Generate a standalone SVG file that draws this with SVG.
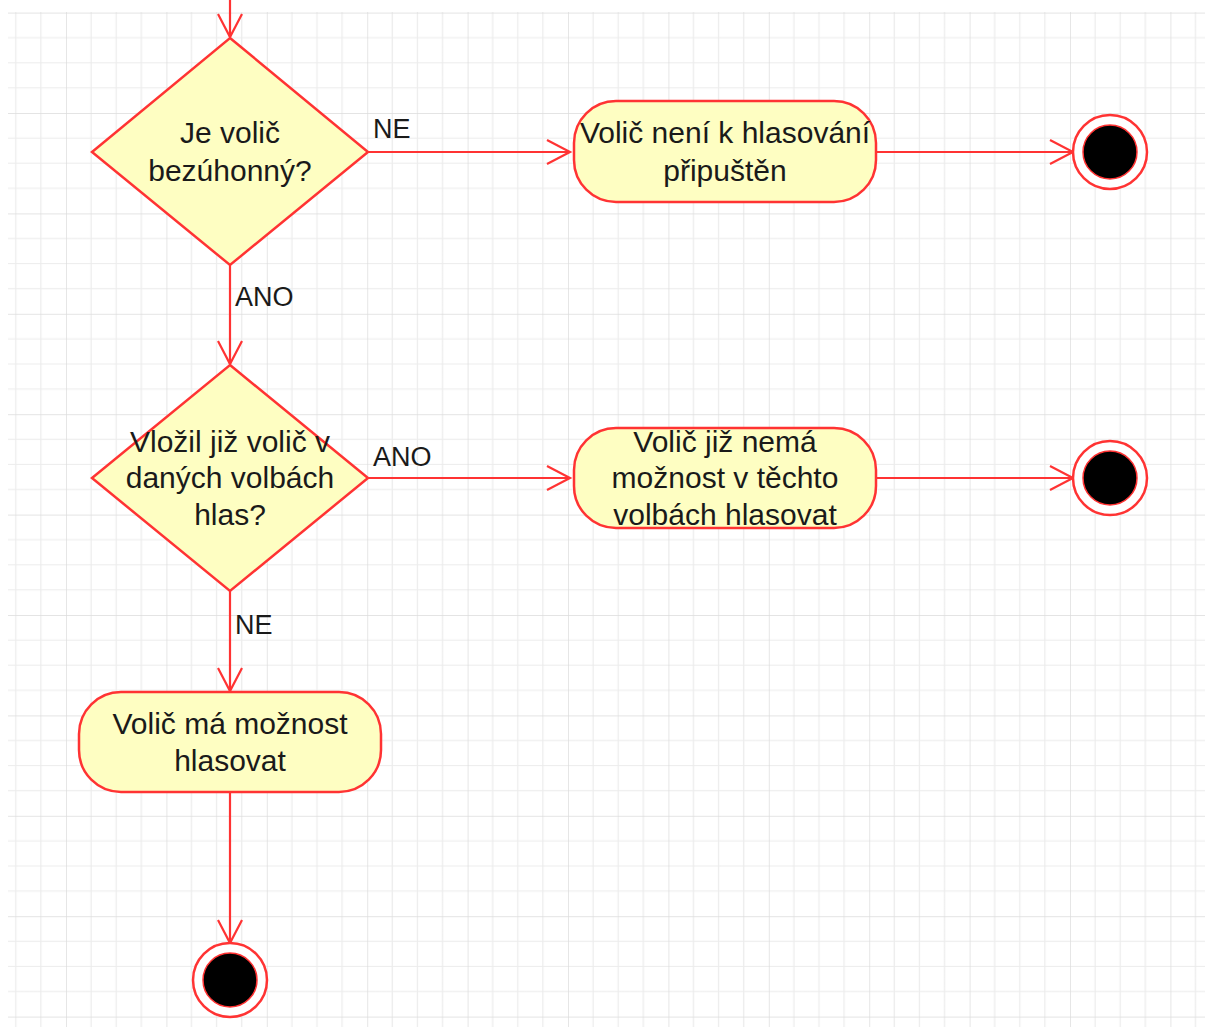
<svg xmlns="http://www.w3.org/2000/svg" width="1205" height="1027" viewBox="0 0 1205 1027">
<defs>
<pattern id="grid" patternUnits="userSpaceOnUse" x="-34.4" y="12.6" width="100.4" height="100.4">
<path d="M25.1 0V100.4M50.2 0V100.4M75.3 0V100.4M0 25.1H100.4M0 50.2H100.4M0 75.3H100.4" stroke="#ececec" stroke-width="1.2" fill="none"/>
<path d="M0 0V100.4M0 0H100.4" stroke="#dcdcdc" stroke-width="1.4" fill="none"/>
</pattern>
<marker id="arr" markerUnits="userSpaceOnUse" markerWidth="30" markerHeight="30" viewBox="-25 -15 30 30" refX="0" refY="0" orient="auto">
<path d="M-23 -12L0 0L-23 12" fill="none" stroke="#ff3333" stroke-width="2.2"/>
</marker>
</defs>
<style>
.node{fill:#fefec2;stroke:#ff3333;stroke-width:2.5}
.t{font-family:"Liberation Sans",Arial,sans-serif;font-size:30px;fill:#1a1a1a;text-anchor:middle}
.lbl{font-family:"Liberation Sans",Arial,sans-serif;font-size:27px;fill:#1a1a1a}
.edge{stroke:#ff3333;stroke-width:2.2;fill:none;marker-end:url(#arr)}
.ring{fill:#fff;stroke:#ff3333;stroke-width:2.5}
.dot{fill:#000;stroke:#ff3333;stroke-width:1.5}
</style>
<rect width="1205" height="1027" fill="#fff"/>
<rect x="8" y="12" width="1197" height="1015" fill="url(#grid)"/>
<g id="connectors">
<path class="edge" d="M230 0V37"/>
<path class="edge" d="M368 152H570"/>
<path class="edge" d="M876 152H1073"/>
<path class="edge" d="M230 265V364"/>
<path class="edge" d="M368 478H570"/>
<path class="edge" d="M876 478H1073"/>
<path class="edge" d="M230 591V691"/>
<path class="edge" d="M230 792V943"/>
<text class="lbl" x="373" y="138">NE</text>
<text class="lbl" x="235" y="306">ANO</text>
<text class="lbl" x="373" y="466">ANO</text>
<text class="lbl" x="235" y="634">NE</text>
</g>
<g id="d1">
<polygon class="node" points="230,38 368,152 230,265 92,152"/>
<text class="t" x="230" y="143">Je volič</text>
<text class="t" x="230" y="181">bezúhonný?</text>
</g>
<g id="a1">
<rect class="node" x="574" y="101" width="302" height="101" rx="42"/>
<text class="t" x="725" y="143">Volič není k hlasování</text>
<text class="t" x="725" y="181">připuštěn</text>
</g>
<g id="e1">
<circle class="ring" cx="1110" cy="152" r="37"/>
<circle class="dot" cx="1110" cy="152" r="27"/>
</g>
<g id="d2">
<polygon class="node" points="230,365 368,478 230,591 92,478"/>
<text class="t" x="230" y="452">Vložil již volič v</text>
<text class="t" x="230" y="488">daných volbách</text>
<text class="t" x="230" y="525">hlas?</text>
</g>
<g id="a2">
<rect class="node" x="574" y="428" width="302" height="100" rx="42"/>
<text class="t" x="725" y="452">Volič již nemá</text>
<text class="t" x="725" y="488">možnost v těchto</text>
<text class="t" x="725" y="525">volbách hlasovat</text>
</g>
<g id="e2">
<circle class="ring" cx="1110" cy="478" r="37"/>
<circle class="dot" cx="1110" cy="478" r="27"/>
</g>
<g id="a3">
<rect class="node" x="79" y="692" width="302" height="100" rx="42"/>
<text class="t" x="230" y="734">Volič má možnost</text>
<text class="t" x="230" y="771">hlasovat</text>
</g>
<g id="e3">
<circle class="ring" cx="230" cy="980" r="37"/>
<circle class="dot" cx="230" cy="980" r="27"/>
</g>
</svg>
